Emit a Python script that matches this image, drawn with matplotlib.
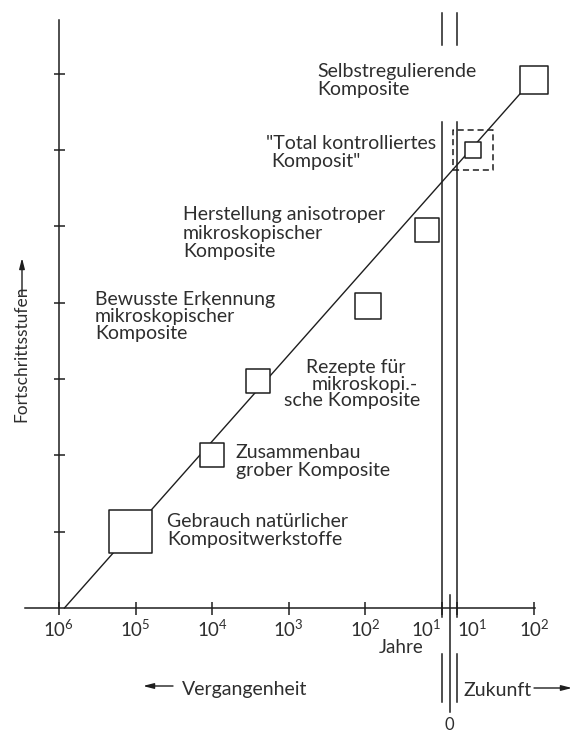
import numpy as np
import matplotlib
matplotlib.use("Agg")
import matplotlib.pyplot as plt
from matplotlib import font_manager
from matplotlib.ticker import NullLocator

# ---------------- data ----------------
stufen_text = [
    "Gebrauch natürlicher\nKompositwerkstoffe",
    "Zusammenbau\ngrober Komposite",
    "Rezepte für\nmikroskopi.-\nsche Komposite",
    "Bewusste Erkennung\nmikroskopischer\nKomposite",
    "Herstellung anisotroper\nmikroskopischer\nKomposite",
    "\"Total kontrolliertes\nKomposit\"",
    "Selbstregulierende\nKomposite",
]
# Zeit in Jahren: negativ = Vergangenheit, positiv = Zukunft
stufen_jahre = [-1.15e5, -1.0e4, -2.5e3, -93, -15.5, 16, 100]
stufen_niveau = [1.0, 2.0, 2.97, 3.96, 4.95, 6.0, 6.92]
trend_jahre = [-8.5e5, 66]
trend_niveau = [0.0, 6.74]
tick_jahre = [-1e6, -1e5, -1e4, -1e3, -1e2, -1e1, 1e1, 1e2]
tick_labels = [r"$10^6$", r"$10^5$", r"$10^4$", r"$10^3$", r"$10^2$",
               r"$10^1$", r"$10^1$", r"$10^2$"]
niveau_ticks = [1, 2, 3, 4, 5, 6, 7]
gegenwart = 0

# ---------------- style / layout ----------------
W, H, DPI = 573, 733, 100
INK = "#1e1e1e"
TXT = "#2e2e2e"
names = {f.name for f in font_manager.fontManager.ttflist}
FONT = "Lato" if "Lato" in names else "DejaVu Sans"
plt.rcParams.update({
    "font.family": [FONT, "DejaVu Sans"],
    "font.weight": "normal",
    "mathtext.fontset": "custom",
    "mathtext.rm": FONT,
    "mathtext.default": "rm",
})
FS = 14
PT = 72 / DPI  # points per pixel

GAP = 0.2  # Dekaden zwischen 10^1 (Vergangenheit) und 10^1 (Zukunft)


def fwd(x):
    x = np.asarray(x, float)
    lg = np.log10(np.maximum(np.abs(x), 10.0))
    return np.where(x <= -10, 6 - lg,
                    np.where(x >= 10, 4 + GAP + lg, 5 + GAP * (x + 10) / 20))


def inv(u):
    u = np.asarray(u, float)
    past = -np.power(10.0, 6 - np.minimum(u, 5))
    fut = np.power(10.0, np.maximum(u, 5 + GAP) - 4 - GAP)
    mid = (u - 5) / GAP * 20 - 10
    return np.where(u <= 5, past, np.where(u >= 5 + GAP, fut, mid))


fig = plt.figure(figsize=(W / DPI, H / DPI), dpi=DPI)
fig.patch.set_facecolor("white")
X0, Y0 = 59, 608
PXD, PXL = 76.6, 76.3
LEFT, RIGHT, TOP = 25, 535, 20
ax = fig.add_axes([LEFT / W, (H - Y0) / H, (RIGHT - LEFT) / W, (Y0 - TOP) / H])
ax.set_xscale("function", functions=(fwd, inv))
ax.set_xlim(float(inv((LEFT - X0) / PXD)), float(inv((RIGHT - X0) / PXD)))
ax.set_ylim(0, (Y0 - TOP) / PXL)
ax.set_facecolor("none")

for s in ("top", "right"):
    ax.spines[s].set_visible(False)
ax.spines["left"].set_position(("data", tick_jahre[0]))
for s in ("left", "bottom"):
    ax.spines[s].set_linewidth(1.1)
    ax.spines[s].set_color(INK)

ax.set_xticks(tick_jahre, tick_labels)
ax.xaxis.set_minor_locator(NullLocator())
ax.set_yticks(niveau_ticks, [])
ax.yaxis.set_minor_locator(NullLocator())
ax.tick_params(axis="x", direction="inout", length=13 * PT, width=1.1,
               color=INK, labelcolor=TXT, labelsize=13.5, pad=3)
ax.tick_params(axis="y", direction="inout", length=11 * PT, width=1.1, color=INK)
xl = ax.get_xticklabels()
xl[5].set_horizontalalignment("right")
xl[6].set_horizontalalignment("left")

# Trendlinie
ax.plot(trend_jahre, trend_niveau, color=INK, lw=1.0, zorder=2, clip_on=False)

# Quadrate
seiten_px = np.array([43, 24, 24, 25.5, 24, 16.5, 28])
ax.scatter(stufen_jahre, stufen_niveau, s=(seiten_px * PT) ** 2, marker="s",
           facecolors="white", edgecolors=INK, linewidths=1.1, zorder=4,
           clip_on=False)
# gestrichelter Rahmen um "Total kontrolliertes Komposit"
ax.scatter([stufen_jahre[5]], [stufen_niveau[5]], s=(40.5 * PT) ** 2, marker="s",
           facecolors="none", edgecolors=INK, linewidths=1.1,
           linestyles=[(0, (4, 2.5))], zorder=3, clip_on=False)


def lv(py):
    return (Y0 - py) / PXL


# senkrechte Linien bei 10^1 / 0 / 10^1
for xj in (tick_jahre[5], tick_jahre[6]):
    for a, b in ((13, 45), (122, 617), (654, 702)):
        ax.plot([xj, xj], [lv(a), lv(b)], color=INK, lw=1.1, clip_on=False, zorder=2)
ax.plot([gegenwart, gegenwart], [lv(595), lv(712)], color=INK, lw=1.1,
        clip_on=False, zorder=2)


# ---------------- Beschriftungen ----------------
def F(x, y):
    return x / W, 1 - y / H


# (linke Kante je Zeile, Grundlinie der ersten Zeile, Zeilenabstand) in Pixeln
layout = [
    ([167, 167], 527, 17.8),
    ([236, 236], 458, 18.0),
    ([306, 312, 284], 373, 16.7),
    ([95, 95, 95], 305, 17.0),
    ([183, 183, 183], 220, 18.5),
    ([266, 271], 149, 17.7),
    ([317, 317], 77, 18.5),
]
for txt, (xs, yb, pitch) in zip(stufen_text, layout):
    for i, line in enumerate(txt.split("\n")):
        fig.text(*F(xs[i], yb + i * pitch), line, ha="left", va="baseline",
                 fontsize=FS, color=TXT)

fig.text(*F(401, 653), "Jahre", ha="center", va="baseline", fontsize=13.5, color=TXT)
fig.text(*F(182, 695), "Vergangenheit", ha="left", va="baseline", fontsize=FS, color=TXT)
fig.text(*F(464, 696), "Zukunft", ha="left", va="baseline", fontsize=FS, color=TXT)
fig.text(*F(449.5, 729.5), "0", ha="center", va="baseline", fontsize=12, color=TXT)
fig.text(*F(29, 422), "Fortschrittsstufen", rotation=90, ha="right", va="bottom",
         fontsize=12.5, color=TXT)

arrow = dict(arrowstyle="-|>,head_length=0.7,head_width=0.18", color=INK, lw=1.0,
             shrinkA=0, shrinkB=0, mutation_scale=9)
ax.annotate("", xy=F(143, 686), xytext=F(173, 686), xycoords="figure fraction",
            textcoords="figure fraction", arrowprops=arrow, annotation_clip=False)
ax.annotate("", xy=F(572, 688), xytext=F(534, 688), xycoords="figure fraction",
            textcoords="figure fraction", arrowprops=arrow, annotation_clip=False)
ax.annotate("", xy=F(22, 258), xytext=F(22, 295), xycoords="figure fraction",
            textcoords="figure fraction", arrowprops=arrow, annotation_clip=False)

fig.savefig("out.png", dpi=DPI, facecolor="white")
